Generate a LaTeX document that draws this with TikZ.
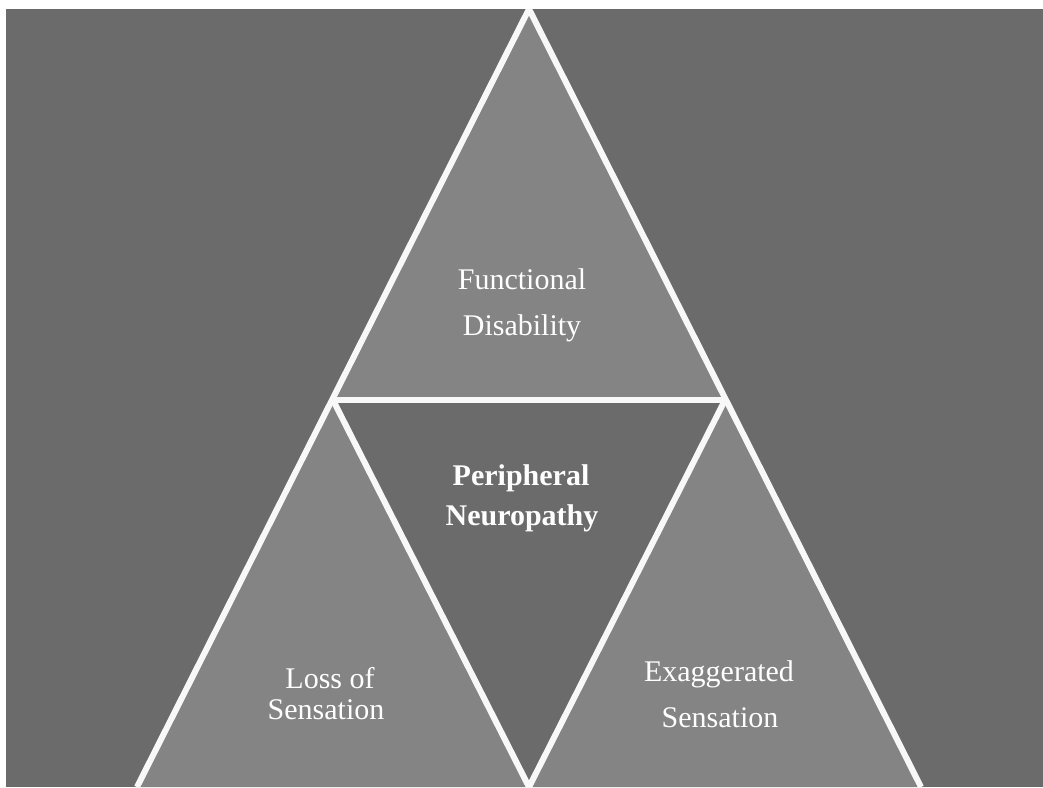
\documentclass[tikz,border=0pt]{standalone}
\usepackage{fontspec}
\setmainfont{Liberation Serif}
\definecolor{bgdark}{HTML}{6B6B6B}
\definecolor{trilight}{HTML}{848484}
\definecolor{edgewhite}{HTML}{F8F8F8}
\tikzset{
  lbl/.style={text=white, font=\fontsize{30}{36}\selectfont, anchor=base, inner sep=0pt},
  lblb/.style={lbl, font=\fontsize{30}{36}\selectfont\bfseries},
  edge/.style={draw=edgewhite, line width=6pt, line join=miter},
}
\begin{document}
\begin{tikzpicture}[x=1pt,y=-1pt]
\useasboundingbox (0,0) rectangle (1043,787);
\fill[white] (0,0) rectangle (1043,787);
\fill[bgdark] (6,9) rectangle (1043,787);
\coordinate (A) at (529,9);
\coordinate (L) at (137,787);
\coordinate (R) at (921,787);
\coordinate (ML) at (333,400);
\coordinate (MR) at (725,400);
\coordinate (B) at (529,787);
\begin{scope}
\clip (6,9) rectangle (1043,787);
\fill[trilight] (A) -- (ML) -- (MR) -- cycle;
\fill[trilight] (ML) -- (L) -- (B) -- cycle;
\fill[trilight] (MR) -- (B) -- (R) -- cycle;
\draw[edge] (L) -- (A) -- (R);
\draw[edge] (ML) -- (MR);
\draw[edge] (ML) -- (B) -- (MR);
\end{scope}
\node[lbl] (fd1) at (522,289) {Functional};
\node[lbl] (fd2) at (522,335) {Disability};
\node[lblb] (pn1) at (521,485) {Peripheral};
\node[lblb] (pn2) at (522,525) {Neuropathy};
\node[lbl] (ls1) at (330,688) {Loss of};
\node[lbl] (ls2) at (326,719) {Sensation};
\node[lbl] (es1) at (719,681) {Exaggerated};
\node[lbl] (es2) at (720,727) {Sensation};
\end{tikzpicture}
\end{document}
